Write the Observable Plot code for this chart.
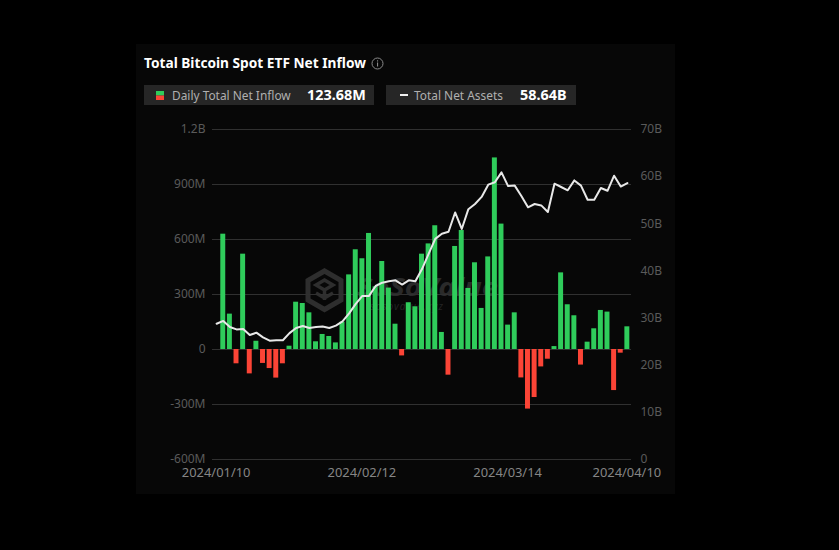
<!DOCTYPE html>
<html><head><meta charset="utf-8">
<script src="https://cdn.jsdelivr.net/npm/d3@7"></script>
<script src="https://cdn.jsdelivr.net/npm/@observablehq/plot@0.6"></script>
<style>
html,body{margin:0;padding:0;background:#000;width:839px;height:550px;overflow:hidden;font-family:"Noto Sans",sans-serif}
#panel{position:absolute;left:136px;top:44px;width:539px;height:450px;background:#070707}
#title{position:absolute;left:8px;top:9px;font-size:13.7px;font-weight:700;color:#fff;white-space:nowrap;line-height:20px}
#title svg{vertical-align:-2px;margin-left:5px}
.pill{position:absolute;top:41px;height:20px;background:#262626;color:#b0b0b0;font-size:11.9px;line-height:20px;white-space:nowrap}
.pill b{position:absolute;color:#fff;font-size:14.4px;font-weight:700;top:0}
.pill span{position:absolute;top:0}
#chart{position:absolute;left:0;top:60px}
#chart svg{background:transparent;display:block}
#mark{position:absolute;left:169px;top:224px;width:200px;height:50px}
</style></head><body>
<div id="panel">
<svg id="mark" viewBox="0 0 200 50">
<g fill="none" stroke="#2e2e2e"><path d="M19.5 3 L36 12.5 L36 32 L19.5 41.5 L3 32 L3 12.5 Z" stroke-width="5"/><path d="M11 17 L19.5 12 L28 17 L19.5 22 Z M19.5 22 V32 M11 25 L19.5 30 L28 25" stroke-width="3.5"/></g>
<text x="52" y="28" font-size="25" font-weight="700" font-style="italic" fill="#2a2a2a" font-family="Noto Sans" textLength="141" lengthAdjust="spacingAndGlyphs">SoSoValue</text>
<text x="65" y="42" font-size="10" font-style="italic" fill="#242424" font-family="Noto Sans" textLength="73">sosovalue.xyz</text>
</svg>
<div id="title">Total Bitcoin Spot ETF Net Inflow<svg width="13" height="13" viewBox="0 0 13 13"><circle cx="6.5" cy="6.5" r="5.5" fill="none" stroke="#8a8a8a"/><rect x="6" y="5.5" width="1.1" height="4" fill="#8a8a8a"/><rect x="6" y="3.3" width="1.1" height="1.2" fill="#8a8a8a"/></svg></div>
<div class="pill" style="left:8px;width:230px">
<svg style="position:absolute;left:12px;top:6px" width="8" height="9"><rect width="8" height="4.5" fill="#2fcc5b"/><rect y="4.5" width="8" height="4.5" fill="#fb4436"/></svg>
<span style="left:28px">Daily Total Net Inflow</span><b style="left:163px">123.68M</b></div>
<div class="pill" style="left:250px;width:190px">
<svg style="position:absolute;left:14px;top:9px" width="8" height="2"><rect width="8" height="2" fill="#eee"/></svg>
<span style="left:28px">Total Net Assets</span><b style="left:134px">58.64B</b></div>
<div id="chart"></div>
</div>
<script>
const dates = ["2024/01/10","2024/01/11","2024/01/12","2024/01/16","2024/01/17","2024/01/18","2024/01/19","2024/01/22","2024/01/23","2024/01/24","2024/01/25","2024/01/26","2024/01/29","2024/01/30","2024/01/31","2024/02/01","2024/02/02","2024/02/05","2024/02/06","2024/02/07","2024/02/08","2024/02/09","2024/02/12","2024/02/13","2024/02/14","2024/02/15","2024/02/16","2024/02/20","2024/02/21","2024/02/22","2024/02/23","2024/02/26","2024/02/27","2024/02/28","2024/02/29","2024/03/01","2024/03/04","2024/03/05","2024/03/06","2024/03/07","2024/03/08","2024/03/11","2024/03/12","2024/03/13","2024/03/14","2024/03/15","2024/03/18","2024/03/19","2024/03/20","2024/03/21","2024/03/22","2024/03/25","2024/03/26","2024/03/27","2024/03/28","2024/04/01","2024/04/02","2024/04/03","2024/04/04","2024/04/05","2024/04/08","2024/04/09","2024/04/10"];
// Daily total net inflow, millions of USD
const inflow = [0,629,193,-78,520,-133,45,-76,-104,-156,-78,18,258,251,200,42,82,71,36,149,407,544,495,633,342,480,335,138,-35,255,233,520,576,675,93,-140,562,649,333,473,224,505,1045,684,133,200,-155,-325,-262,-95,-53,16,418,244,184,-85,40,113,213,204,-224,-20,123.68];
// Total net assets, billions of USD
const assets = [28.8,29.4,28.1,27.6,27.7,26.4,26.9,25.9,25.2,25.3,25.3,26.8,27.9,28.3,27.9,28.1,28.2,27.9,28.4,29.3,31.0,33.0,34.7,34.7,36.8,37.5,37.8,38.0,37.1,38.0,37.8,40.4,43.6,46.8,47.9,48.3,52.4,48.9,53.1,54.2,55.7,58.3,58.8,60.9,58.0,58.1,55.9,53.5,54.2,53.9,52.5,58.5,57.8,57.1,59.2,58.1,55.1,55.1,57.6,57.0,60.2,57.9,58.64];
const leftTicks = [-600,-300,0,300,600,900,1200];
const rightTicks = [0,10,20,30,40,50,60,70];
const xTicks = ["2024/01/10","2024/02/12","2024/03/14","2024/04/10"];
const toLeft = d3.scaleLinear([0,70],[-600,1200]);
const rows = dates.map((date,i)=>({date,inflow:inflow[i],assets:assets[i]}));
const fmtLeft = d => d===0?"0":Math.abs(d)>=1000?(d/1000)+"B":d+"M";
const plot = Plot.plot({
  width:539,height:390,marginLeft:76,marginRight:44,marginTop:25,marginBottom:35,
  style:{background:"transparent",fontFamily:"Noto Sans",fontSize:"12px"},
  x:{domain:dates,padding:0.25,axis:null},
  y:{domain:[-600,1200],axis:null},
  marks:[
    Plot.ruleY(leftTicks,{stroke:"#303030",strokeWidth:1}),
    Plot.barY(rows,{x:"date",y:"inflow",fill:d=>d.inflow>=0?"#2fcc5b":"#fb4436"}),
    Plot.lineY(rows,{x:"date",y:d=>toLeft(d.assets),stroke:"#e8e8e8",strokeWidth:2,curve:"linear"}),
    Plot.axisY(leftTicks,{anchor:"left",label:null,tickSize:0,tickPadding:7,tickFormat:fmtLeft,color:"#5a5a5a",fontSize:12}),
    Plot.axisY(rightTicks.map(v=>toLeft(v)),{anchor:"right",label:null,tickSize:0,tickPadding:9,tickFormat:d=>{const v=Math.round(toLeft.invert(d));return v===0?"0":v+"B"},color:"#5a5a5a",fontSize:12}),
    Plot.axisX(xTicks,{anchor:"bottom",label:null,tickSize:0,tickPadding:8,dx:-0.5,color:"#858585",fontSize:12.9})
  ]
});
document.getElementById("chart").appendChild(plot);
</script>
</body></html>
